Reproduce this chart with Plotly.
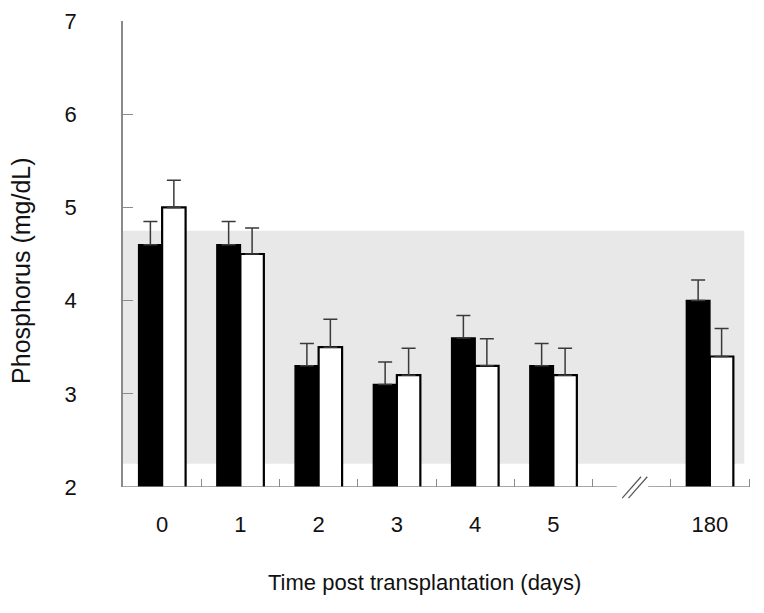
import plotly.graph_objects as go

# ---- data ----
categories = ["0", "1", "2", "3", "4", "5", "180"]
slot_positions = [0, 1, 2, 3, 4, 5, 7]          # slot 6 is the axis break
black_values = [4.6, 4.6, 3.3, 3.1, 3.6, 3.3, 4.0]
black_errors = [0.25, 0.25, 0.24, 0.24, 0.24, 0.24, 0.22]
white_values = [5.0, 4.5, 3.5, 3.2, 3.3, 3.2, 3.4]
white_errors = [0.29, 0.28, 0.30, 0.29, 0.29, 0.29, 0.30]
normal_range = [2.25, 4.75]
y_ticks = [2, 3, 4, 5, 6, 7]
boundary_ticks = [0.5, 1.5, 2.5, 3.5, 4.5, 5.5, 6.5, 7.5]
break_slot = 6

axis_gray = "#8a8a8a"
err_color = "#3a3a3a"

fig = go.Figure()
fig.add_trace(go.Bar(
    x=slot_positions, y=black_values, name="black",
    marker=dict(color="black", line=dict(color="black", width=1.5)),
    error_y=dict(type="data", array=black_errors, arrayminus=[0] * len(black_errors),
                 symmetric=False, color=err_color, thickness=1.5, width=7),
))
fig.add_trace(go.Bar(
    x=slot_positions, y=white_values, name="white",
    marker=dict(color="white", line=dict(color="black", width=2.2)),
    error_y=dict(type="data", array=white_errors, arrayminus=[0] * len(white_errors),
                 symmetric=False, color=err_color, thickness=1.5, width=7),
))

shapes = [
    # normal range band
    dict(type="rect", xref="x", yref="y", x0=-0.5, x1=7.44,
         y0=normal_range[0], y1=normal_range[1],
         fillcolor="#e8e8e8", line=dict(width=0), layer="below"),
    # broken x axis line
    dict(type="line", xref="x", yref="y", x0=-0.5, x1=break_slot - 0.19, y0=2, y1=2,
         line=dict(color=axis_gray, width=1.5)),
    dict(type="line", xref="x", yref="y", x0=break_slot + 0.21, x1=7.5, y0=2, y1=2,
         line=dict(color=axis_gray, width=1.5)),
    # break marks "//"
    dict(type="line", xref="x", yref="paper", x0=break_slot - 0.12, x1=break_slot + 0.12,
         y0=-0.024, y1=0.022, line=dict(color="#555555", width=1.2)),
    dict(type="line", xref="x", yref="paper", x0=break_slot - 0.04, x1=break_slot + 0.20,
         y0=-0.024, y1=0.022, line=dict(color="#555555", width=1.2)),
]

fig.update_layout(
    width=764, height=613,
    margin=dict(l=115, r=23, t=13, b=134),
    paper_bgcolor="white", plot_bgcolor="white",
    barmode="group", bargap=0.4, bargroupgap=0,
    showlegend=False,
    shapes=shapes,
    font=dict(family="Liberation Sans, Arial, sans-serif", color="#111111"),
    xaxis=dict(
        range=[-0.5, 7.5], tickmode="array", tickvals=slot_positions, ticktext=categories,
        ticks="", showline=False, showgrid=False, zeroline=False, automargin=False,
        tickfont=dict(size=22), ticklabelstandoff=22,
        minor=dict(tickmode="array", tickvals=boundary_ticks, ticks="inside",
                   ticklen=8, tickcolor=axis_gray, tickwidth=1, showgrid=False),
    ),
    yaxis=dict(
        range=[2, 7], tickmode="array", tickvals=y_ticks,
        ticks="inside", ticklen=10, tickcolor=axis_gray, tickwidth=1,
        showline=True, linecolor=axis_gray, linewidth=1.5, automargin=False,
        showgrid=False, zeroline=False,
        tickfont=dict(size=22), ticklabelstandoff=40,
    ),
    annotations=[
        dict(text="Time post transplantation (days)", xref="paper", yref="paper",
             x=0.482, y=-0.204, showarrow=False, font=dict(size=22),
             xanchor="center", yanchor="middle"),
        dict(text="Phosphorus (mg/dL)", xref="paper", yref="paper",
             x=-0.162, y=0.465, showarrow=False, font=dict(size=25), textangle=-90,
             xanchor="center", yanchor="middle"),
    ],
)

fig.write_html("out.html")
